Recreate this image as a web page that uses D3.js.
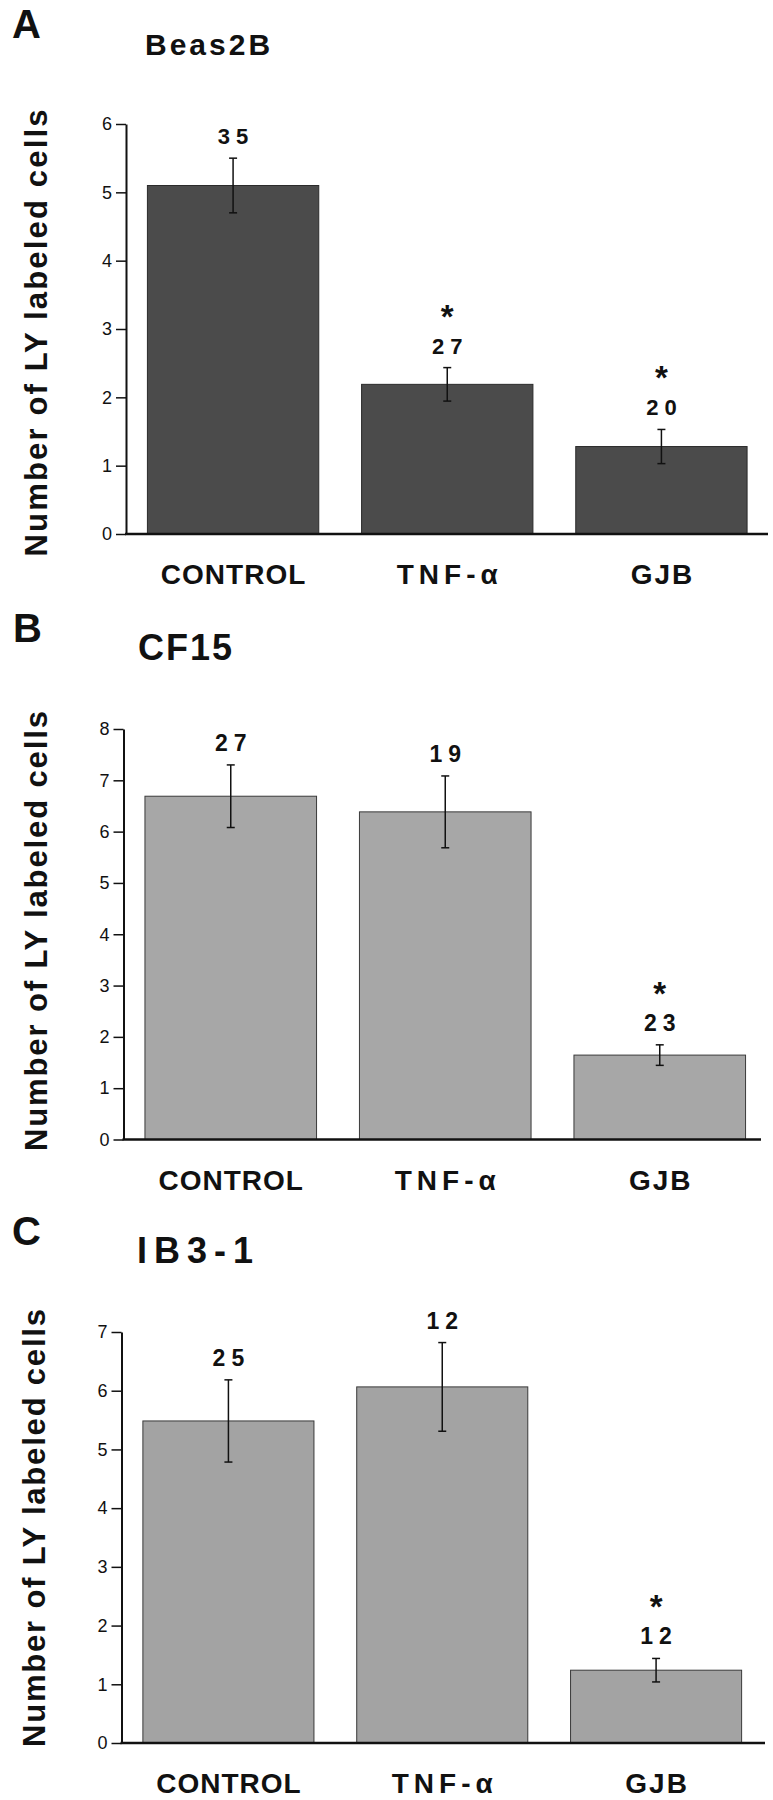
<!DOCTYPE html>
<html><head><meta charset="utf-8">
<script src="https://cdn.jsdelivr.net/npm/d3@7"></script>
<style>
body{margin:0;background:#fff}
svg{display:block}
text{font-family:"Liberation Sans",Arial,Helvetica,sans-serif}
</style>
</head><body>
<script>
// ---------------- data ----------------
const categories = ["CONTROL", "TNF-α", "GJB"];
const yAxisTitle = "Number of LY labeled cells";

const beasMeans = [5.1, 2.19, 1.28];
const beasErrors = [0.4, 0.245, 0.25];
const beasCounts = ["35", "27", "20"];
const beasSignificant = [false, true, true];
const beasTicks = [0, 1, 2, 3, 4, 5, 6];

const cf15Means = [6.69, 6.385, 1.645];
const cf15Errors = [0.61, 0.7, 0.2];
const cf15Counts = ["27", "19", "23"];
const cf15Significant = [false, false, true];
const cf15Ticks = [0, 1, 2, 3, 4, 5, 6, 7, 8];

const ib3Means = [5.485, 6.065, 1.24];
const ib3Errors = [0.7, 0.755, 0.2];
const ib3Counts = ["25", "12", "12"];
const ib3Significant = [false, false, true];
const ib3Ticks = [0, 1, 2, 3, 4, 5, 6, 7];

const panelLetters = ["A", "B", "C"];
const cellLines = ["Beas2B", "CF15", "IB3-1"];

// ---------------- layout / style ----------------
const W = 773, H = 1800;
const layout = [
  {means: beasMeans, errors: beasErrors, counts: beasCounts, sig: beasSignificant, ticks: beasTicks,
   axisX: 126, yTop: 124, y0: 534, rangeEnd: 768.5, baseEnd: 768,
   letter: [12, 38], title: [145, 55, 30, 3], ytitle: [47, 333, 447], numSize: 22,
   fill: "#4b4b4b", stroke: "#2b2b2b"},
  {means: cf15Means, errors: cf15Errors, counts: cf15Counts, sig: cf15Significant, ticks: cf15Ticks,
   axisX: 123.5, yTop: 729, y0: 1139.5, rangeEnd: 767, baseEnd: 761,
   letter: [13, 642], title: [138, 660, 36, 2], ytitle: [47, 931, 440], numSize: 23,
   fill: "#a7a7a7", stroke: "#3a3a3a"},
  {means: ib3Means, errors: ib3Errors, counts: ib3Counts, sig: ib3Significant, ticks: ib3Ticks,
   axisX: 121.5, yTop: 1332, y0: 1743, rangeEnd: 763, baseEnd: 765,
   letter: [12, 1245], title: [137, 1263, 36, 7], ytitle: [45, 1528, 438], numSize: 23,
   fill: "#a3a3a3", stroke: "#3a3a3a"}
];
const catSpacing = [1, 5, 2];

const svg = d3.select("body").append("svg").attr("width", W).attr("height", H);

layout.forEach((p, pi) => {
  const g = svg.append("g");
  const maxV = p.ticks[p.ticks.length - 1];
  const y = d3.scaleLinear().domain([0, maxV]).range([p.y0, p.yTop]);
  const x = d3.scaleBand().domain(categories).range([p.axisX, p.rangeEnd])
    .paddingInner(0.2).paddingOuter(0.1);

  const rows = categories.map((c, i) => ({c, m: p.means[i], e: p.errors[i], n: p.counts[i], s: p.sig[i]}));

  // bars
  g.selectAll("rect.bar").data(rows).join("rect")
    .attr("x", d => x(d.c)).attr("width", x.bandwidth())
    .attr("y", d => y(d.m)).attr("height", d => y(0) - y(d.m))
    .attr("fill", p.fill).attr("stroke", p.stroke).attr("stroke-width", 1);

  // error bars
  const cx = d => x(d.c) + x.bandwidth() / 2;
  const eb = g.selectAll("g.err").data(rows).join("g").attr("stroke", "#111").attr("stroke-width", 1.5);
  eb.append("line").attr("x1", cx).attr("x2", cx).attr("y1", d => y(d.m + d.e)).attr("y2", d => y(d.m - d.e));
  eb.append("line").attr("x1", d => cx(d) - 4).attr("x2", d => cx(d) + 4).attr("y1", d => y(d.m + d.e)).attr("y2", d => y(d.m + d.e));
  eb.append("line").attr("x1", d => cx(d) - 4).attr("x2", d => cx(d) + 4).attr("y1", d => y(d.m - d.e)).attr("y2", d => y(d.m - d.e));

  // n labels
  const nBase = d => y(d.m + d.e) - 14;
  g.selectAll("text.n").data(rows).join("text")
    .attr("x", cx).attr("y", nBase).attr("dx", 3)
    .attr("text-anchor", "middle").attr("font-weight", "bold")
    .attr("font-size", p.numSize).attr("letter-spacing", 6).attr("fill", "#111")
    .text(d => d.n);
  // significance stars
  g.selectAll("text.s").data(rows.filter(d => d.s)).join("text")
    .attr("x", cx).attr("y", d => nBase(d) - 26)
    .attr("text-anchor", "middle").attr("font-weight", "bold")
    .attr("font-size", 33).attr("fill", "#111").text("*");

  // y axis
  const ax = g.append("g").attr("transform", `translate(${p.axisX},0)`)
    .call(d3.axisLeft(y).tickValues(p.ticks).tickSize(10).tickSizeOuter(0).tickPadding(4).tickFormat(d3.format("d")));
  ax.select(".domain").attr("stroke", "#111").attr("stroke-width", 2);
  ax.selectAll(".tick line").attr("stroke", "#111").attr("stroke-width", 1.5);
  ax.selectAll(".tick text").attr("font-size", 18).attr("fill", "#111")
    .attr("font-family", "'Liberation Sans',Arial,sans-serif");

  // baseline
  g.append("line").attr("x1", p.axisX - 1).attr("x2", p.baseEnd).attr("y1", y(0)).attr("y2", y(0))
    .attr("stroke", "#111").attr("stroke-width", 2.5);

  // category labels
  g.selectAll("text.cat").data(categories).join("text")
    .attr("x", d => x(d) + x.bandwidth() / 2).attr("dx", (d, i) => catSpacing[i] / 2)
    .attr("y", p.y0 + 50).attr("text-anchor", "middle")
    .attr("font-weight", "bold").attr("font-size", 28).attr("fill", "#111")
    .attr("letter-spacing", (d, i) => catSpacing[i])
    .text(d => d);

  // y title
  g.append("text")
    .attr("transform", `translate(${p.ytitle[0]},${p.ytitle[1]}) rotate(-90)`)
    .attr("text-anchor", "middle").attr("font-weight", "bold").attr("font-size", 31)
    .attr("textLength", p.ytitle[2]).attr("lengthAdjust", "spacing").attr("fill", "#111")
    .text(yAxisTitle);

  // panel letter
  g.append("text").attr("x", p.letter[0]).attr("y", p.letter[1])
    .attr("font-weight", "bold").attr("font-size", 40).attr("fill", "#111").text(panelLetters[pi]);
  // cell line title
  g.append("text").attr("x", p.title[0]).attr("y", p.title[1])
    .attr("font-weight", "bold").attr("font-size", p.title[2]).attr("letter-spacing", p.title[3])
    .attr("fill", "#111").text(cellLines[pi]);
});
</script>
</body></html>
